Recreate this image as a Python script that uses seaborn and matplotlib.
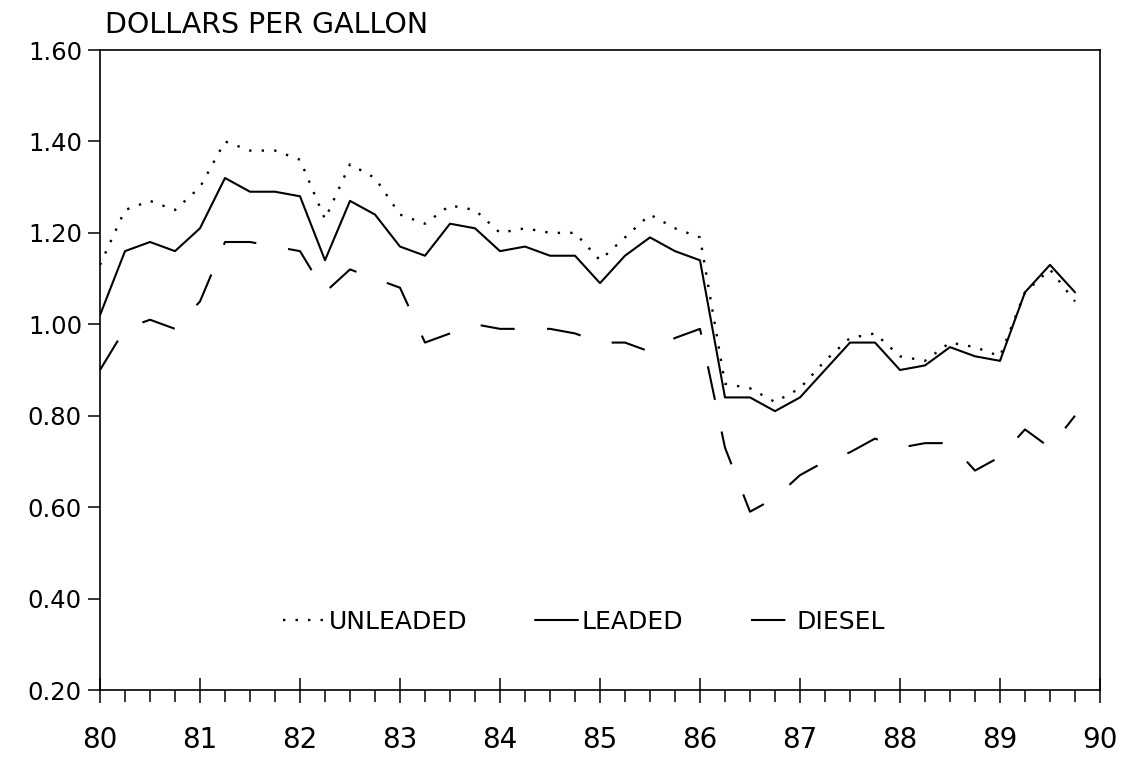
import matplotlib
matplotlib.use("Agg")
import matplotlib.pyplot as plt
import seaborn as sns
import pandas as pd
from matplotlib.ticker import FixedLocator, FormatStrFormatter
from matplotlib.lines import Line2D

# ---------------- data (quarterly, 1980-1989) ----------------
quarters = [80.00, 80.25, 80.50, 80.75, 81.00, 81.25, 81.50, 81.75,
            82.00, 82.25, 82.50, 82.75, 83.00, 83.25, 83.50, 83.75,
            84.00, 84.25, 84.50, 84.75, 85.00, 85.25, 85.50, 85.75,
            86.00, 86.25, 86.50, 86.75, 87.00, 87.25, 87.50, 87.75,
            88.00, 88.25, 88.50, 88.75, 89.00, 89.25, 89.50, 89.75]

unleaded = [1.13, 1.25, 1.27, 1.25, 1.30, 1.40, 1.38, 1.38,
            1.36, 1.23, 1.35, 1.32, 1.24, 1.22, 1.26, 1.25,
            1.20, 1.21, 1.20, 1.20, 1.14, 1.19, 1.24, 1.21,
            1.19, 0.87, 0.86, 0.83, 0.86, 0.92, 0.97, 0.98,
            0.93, 0.92, 0.96, 0.95, 0.93, 1.07, 1.12, 1.05]

leaded = [1.02, 1.16, 1.18, 1.16, 1.21, 1.32, 1.29, 1.29,
          1.28, 1.14, 1.27, 1.24, 1.17, 1.15, 1.22, 1.21,
          1.16, 1.17, 1.15, 1.15, 1.09, 1.15, 1.19, 1.16,
          1.14, 0.84, 0.84, 0.81, 0.84, 0.90, 0.96, 0.96,
          0.90, 0.91, 0.95, 0.93, 0.92, 1.07, 1.13, 1.07]

diesel = [0.90, 0.99, 1.01, 0.99, 1.05, 1.18, 1.18, 1.17,
          1.16, 1.07, 1.12, 1.10, 1.08, 0.96, 0.98, 1.00,
          0.99, 0.99, 0.99, 0.98, 0.96, 0.96, 0.94, 0.97,
          0.99, 0.73, 0.59, 0.62, 0.67, 0.70, 0.72, 0.75,
          0.73, 0.74, 0.74, 0.68, 0.71, 0.77, 0.73, 0.80]

series_names = ["UNLEADED", "LEADED", "DIESEL"]
year_ticks = [80, 81, 82, 83, 84, 85, 86, 87, 88, 89, 90]
y_ticks = [0.20, 0.40, 0.60, 0.80, 1.00, 1.20, 1.40, 1.60]
y_title = "DOLLARS PER GALLON"

df = pd.DataFrame({"quarter": quarters, "UNLEADED": unleaded,
                   "LEADED": leaded, "DIESEL": diesel})

# ---------------- style ----------------
sns.set_style("white")
plt.rcParams["font.family"] = ["DejaVu Sans"]
plt.rcParams["text.color"] = "black"

W, H = 1121, 765
fig = plt.figure(figsize=(W / 100, H / 100), dpi=100)
ax = fig.add_axes([100 / W, 1 - 690 / H, 1000 / W, 640 / H])

lw = 1.5
styles = {
    "UNLEADED": dict(linestyle=(0, (1.0, 4.3)), linewidth=1.7),
    "LEADED": dict(linestyle="-", linewidth=lw),
    "DIESEL": dict(linestyle=(0, (16.5, 15.5)), linewidth=lw),
}

for name in series_names:
    sns.lineplot(data=df, x="quarter", y=name, ax=ax, color="black",
                 **styles[name])

ax.set_xlim(80, 90)
ax.set_ylim(0.20, 1.60)
ax.set_xlabel("")
ax.set_ylabel("")

ax.xaxis.set_major_locator(FixedLocator(year_ticks))
ax.xaxis.set_minor_locator(FixedLocator(quarters[1:]))
ax.xaxis.set_major_formatter(FormatStrFormatter("%d"))
ax.yaxis.set_major_locator(FixedLocator(y_ticks))
ax.yaxis.set_major_formatter(FormatStrFormatter("%.2f"))

for sp in ax.spines.values():
    sp.set_visible(True)
    sp.set_color("black")
    sp.set_linewidth(1.2)

ax.tick_params(axis="x", which="major", direction="inout", length=18,
               width=1.1, pad=17, labelsize=20, colors="black")
ax.tick_params(axis="x", which="minor", direction="out", length=8.5,
               width=1.1, colors="black")
ax.tick_params(axis="y", which="major", direction="out", length=9,
               width=1.1, pad=4, labelsize=17.5, colors="black", left=True)
ax.tick_params(bottom=True, which="both")

ax.text(0.005, 1.027, y_title, transform=ax.transAxes, ha="left",
        va="baseline", fontsize=20.5, color="black")

handles = [Line2D([], [], color="black", **styles[n]) for n in series_names]
ax.legend(handles, series_names, loc="center", bbox_to_anchor=(0.484, 0.107),
          ncol=3, frameon=False, fontsize=18, handlelength=1.7,
          handletextpad=0.15, columnspacing=2.7)

fig.savefig("out.png", dpi=100, facecolor="white")
